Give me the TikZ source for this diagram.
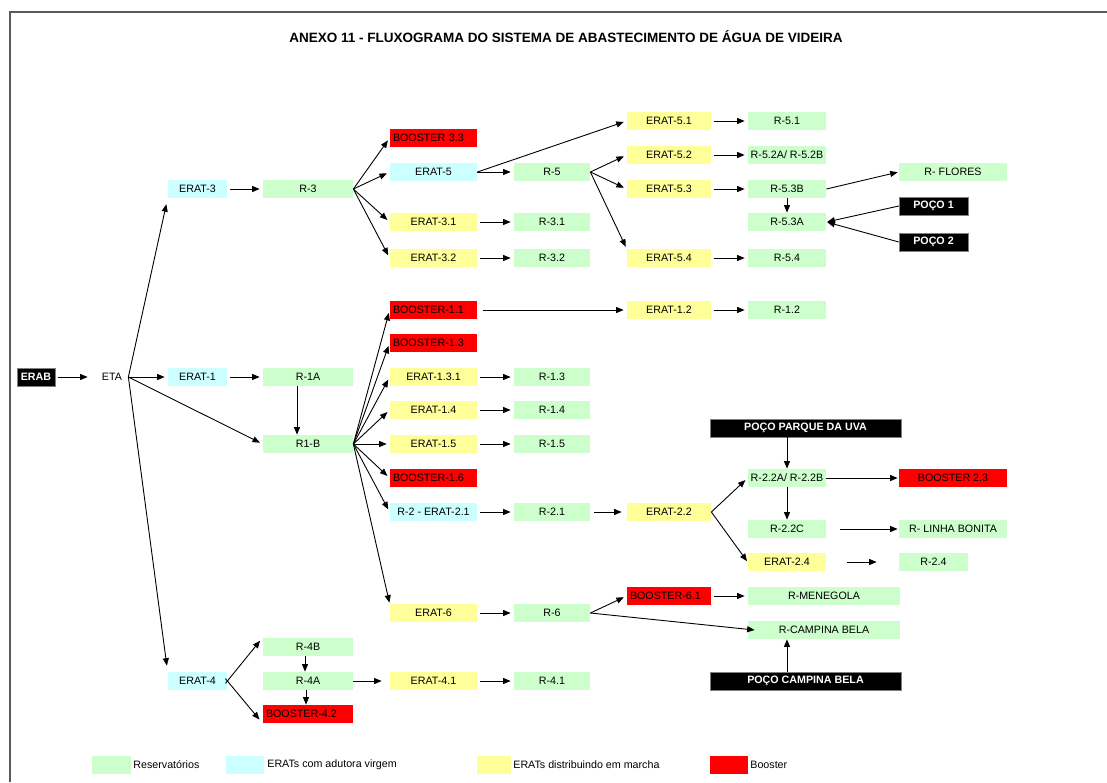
\documentclass[tikz,border=0pt]{standalone}
\usepackage{fontspec}
\setmainfont{Liberation Sans}
\usetikzlibrary{arrows.meta}

\definecolor{resgreen}{RGB}{204,255,204}
\definecolor{eracyan}{RGB}{204,255,255}
\definecolor{erayel}{RGB}{255,255,153}
\definecolor{boostred}{RGB}{255,0,0}

\tikzset{every picture/.style={line width=0.75pt}}
\tikzset{
  box/.style={inner sep=0pt, minimum height=18pt, font=\fontsize{10.7}{12}\selectfont},
  res/.style={box, fill=resgreen},
  eratv/.style={box, fill=eracyan},
  eratm/.style={box, fill=erayel},
  boost/.style={box, fill=boostred},
  boostl/.style={boost, text width=#1, align=left, inner xsep=3pt},
  poco/.style={box, fill=black, draw=gray, line width=0.4pt, text=white, font=\fontsize{10.7}{12}\selectfont\bfseries},
  wa/.style={minimum width=59pt},
  wb/.style={minimum width=90pt},
  wc/.style={minimum width=87pt},
  wd/.style={minimum width=76pt},
  we/.style={minimum width=84pt},
  wf/.style={minimum width=78pt},
  wg/.style={minimum width=108pt},
  wh/.style={minimum width=69pt},
  flow/.style={-{Triangle[length=7.5pt,width=6pt]}, line width=0.9pt, shorten <=3pt, shorten >=3pt},
}

\begin{document}
\begin{tikzpicture}[x=1pt,y=1pt,yscale=-1,xscale=1]
\useasboundingbox (0,0) rectangle (1107,782);

%Shape: Frame
\draw [color={rgb, 255:red, 90; green, 90; blue, 90 }, line width=2pt] (10,782) -- (10,12) -- (1107,12) ;

% Text Node
\node [font=\fontsize{13.5}{16}\selectfont\bfseries] (title) at (566,37) {ANEXO 11 - FLUXOGRAMA DO SISTEMA DE ABASTECIMENTO DE ÁGUA DE VIDEIRA};

% Text Node
\node [poco, minimum width=38pt] (erab) at (36,377) {ERAB};
\node [box, minimum width=32pt] (eta) at (112,377) {ETA};

% Text Node
\node [eratv, wa] (erat3) at (197.5,189) {ERAT-3};
\node [eratv, wa] (erat1) at (197.5,377) {ERAT-1};
\node [eratv, wa] (erat4) at (197.5,681) {ERAT-4};

% Text Node
\node [res, wb] (r3) at (308,189) {R-3};
\node [res, wb] (r1a) at (308,377) {R-1A};
\node [res, wb] (r1b) at (308,444) {R1-B};
\node [res, wb] (r4b) at (308,647) {R-4B};
\node [res, wb] (r4a) at (308,681) {R-4A};
\node [boostl=84pt] (b42) at (308,714) {BOOSTER-4.2};

% Text Node
\node [boostl=81pt] (b33) at (433.5,138) {BOOSTER 3.3};
\node [eratv, wc] (erat5) at (433.5,172) {ERAT-5};
\node [eratm, wc] (e31) at (433.5,222) {ERAT-3.1};
\node [eratm, wc] (e32) at (433.5,258) {ERAT-3.2};
\node [boostl=81pt] (b11) at (433.5,310) {BOOSTER-1.1};
\node [boostl=81pt] (b13) at (433.5,343) {BOOSTER-1.3};
\node [eratm, wc] (e131) at (433.5,377) {ERAT-1.3.1};
\node [eratm, wc] (e14) at (433.5,410) {ERAT-1.4};
\node [eratm, wc] (e15) at (433.5,444) {ERAT-1.5};
\node [boostl=81pt] (b16) at (433.5,478) {BOOSTER-1.6};
\node [eratv, wc] (r2e21) at (433.5,512) {R-2 - ERAT-2.1};
\node [eratm, wc] (e6) at (433.5,613) {ERAT-6};
\node [eratm, wc] (e41) at (433.5,681) {ERAT-4.1};

% Text Node
\node [res, wd] (r5) at (552,172) {R-5};
\node [res, wd] (r31) at (552,222) {R-3.1};
\node [res, wd] (r32) at (552,258) {R-3.2};
\node [res, wd] (r13) at (552,377) {R-1.3};
\node [res, wd] (r14) at (552,410) {R-1.4};
\node [res, wd] (r15) at (552,444) {R-1.5};
\node [res, wd] (r21) at (552,512) {R-2.1};
\node [res, wd] (r6) at (552,613) {R-6};
\node [res, wd] (r41) at (552,681) {R-4.1};

% Text Node
\node [eratm, we] (e51) at (669,121) {ERAT-5.1};
\node [eratm, we] (e52) at (669,155) {ERAT-5.2};
\node [eratm, we] (e53) at (669,189) {ERAT-5.3};
\node [eratm, we] (e54) at (669,258) {ERAT-5.4};
\node [eratm, we] (e12) at (669,310) {ERAT-1.2};
\node [eratm, we] (e22) at (669,512) {ERAT-2.2};
\node [boostl=78pt] (b61) at (669,596) {BOOSTER-6.1};

% Text Node
\node [res, wf] (r51) at (787,121) {R-5.1};
\node [res, wf] (r52) at (787,155) {R-5.2A/ R-5.2B};
\node [res, wf] (r53b) at (787,189) {R-5.3B};
\node [res, wf] (r53a) at (787,222) {R-5.3A};
\node [res, wf] (r54) at (787,258) {R-5.4};
\node [res, wf] (r12) at (787,310) {R-1.2};
\node [poco, minimum width=191pt] (ppu) at (805.5,428) {POÇO PARQUE DA UVA};
\node [res, wf] (r22ab) at (787,478) {R-2.2A/ R-2.2B};
\node [res, wf] (r22c) at (787,529) {R-2.2C};
\node [eratm, wf] (e24) at (787,562) {ERAT-2.4};
\node [res, minimum width=152pt] (rmen) at (824,596) {R-MENEGOLA};
\node [res, minimum width=152pt] (rcamp) at (824,630) {R-CAMPINA BELA};
\node [poco, minimum width=191pt] (pcb) at (805.5,681) {POÇO CAMPINA BELA};

% Text Node
\node [res, wg] (rflores) at (953,172) {R- FLORES};
\node [poco, wh] (poco1) at (933.5,206) {POÇO 1};
\node [poco, wh] (poco2) at (933.5,242) {POÇO 2};
\node [boost, wg] (b23) at (953,478) {BOOSTER 2.3};
\node [res, wg] (rlinha) at (953,529) {R- LINHA BONITA};
\node [res, wh] (r24) at (933.5,562) {R-2.4};

%Straight Lines
\draw [flow, shorten >=8pt] (erab) -- (eta);
\draw [flow, shorten <=0pt] (eta.east) -- (erat1);
\draw [flow, shorten <=0pt, shorten >=6pt] (eta.east) -- (erat3.south west);
\draw [flow, shorten <=0pt, shorten >=6pt] (eta.east) -- (erat4.north west);
\draw [flow, shorten <=0pt] (eta.east) -- (r1b.west);

%Straight Lines
\draw [flow] (erat3) -- (r3);
\draw [flow] (erat1) -- (r1a);
\draw [flow, shorten <=0pt, shorten >=0pt] ([xshift=-11pt]r1a.south) -- ([xshift=-11pt]r1b.north);

%Straight Lines
\draw [flow, shorten <=0pt] (r3.east) -- (b33.west);
\draw [flow, shorten <=0pt] (r3.east) -- (erat5.west);
\draw [flow, shorten <=0pt] (r3.east) -- (e31.west);
\draw [flow, shorten <=0pt] (r3.east) -- (e32.west);
\draw [flow] (e31) -- (r31);
\draw [flow] (e32) -- (r32);

%Straight Lines
\draw [flow, shorten <=0pt] (erat5.east) -- (e51.west);
\draw [flow, shorten <=0pt] (erat5.east) -- (r5.west);
\draw [flow, shorten <=0pt] (r5.east) -- (e52.west);
\draw [flow, shorten <=0pt] (r5.east) -- (e53.west);
\draw [flow, shorten <=0pt, shorten >=2pt] (r5.east) -- (e54.north west);
\draw [flow] (e51) -- (r51);
\draw [flow] (e52) -- (r52);
\draw [flow] (e53) -- (r53b);
\draw [flow] (e54) -- (r54);
\draw [flow, shorten <=0pt, shorten >=1pt] (r53b.east) -- (rflores.west);
\draw [flow, shorten <=0pt, shorten >=0pt] (r53b) -- (r53a);
\draw [flow, shorten <=0pt, shorten >=1pt] (poco1.west) -- (r53a.east);
\draw [flow, shorten <=0pt, shorten >=1pt] (poco2.west) -- (r53a.east);

%Straight Lines
\draw [flow, shorten <=0pt] (r1b.east) -- (b11.west);
\draw [flow, shorten <=0pt] (r1b.east) -- (b13.west);
\draw [flow, shorten <=0pt] (r1b.east) -- (e131.west);
\draw [flow, shorten <=0pt] (r1b.east) -- (e14.west);
\draw [flow, shorten <=0pt] (r1b.east) -- (e15.west);
\draw [flow, shorten <=0pt] (r1b.east) -- (b16.west);
\draw [flow, shorten <=0pt] (r1b.east) -- (r2e21.west);
\draw [flow, shorten <=0pt, shorten >=1pt] (r1b.east) -- (e6.north west);
\draw [flow, shorten <=6pt] (b11) -- (e12);
\draw [flow] (e12) -- (r12);
\draw [flow] (e131) -- (r13);
\draw [flow] (e14) -- (r14);
\draw [flow] (e15) -- (r15);
\draw [flow] (r2e21) -- (r21);
\draw [flow, shorten <=4pt, shorten >=5pt] (r21) -- (e22);

%Straight Lines
\draw [flow, shorten <=0pt] (e22.east) -- (r22ab.west);
\draw [flow, shorten <=0pt, shorten >=1pt] (e22.east) -- (e24.west);
\draw [flow, shorten <=0pt, shorten >=0pt] (ppu.south -| r22ab) -- (r22ab.north);
\draw [flow, shorten <=0pt, shorten >=1pt] (r22ab) -- (b23);
\draw [flow, shorten <=0pt, shorten >=0pt] (r22ab) -- (r22c);
\draw [flow, shorten <=14pt, shorten >=1pt] (r22c) -- (rlinha);
\draw [flow, shorten <=21pt, shorten >=22pt] (e24) -- (r24);

%Straight Lines
\draw [flow] (e6) -- (r6);
\draw [flow, shorten <=0pt] (r6.east) -- (b61.west);
\draw [flow, shorten <=0pt, shorten >=0pt] (r6.east) -- ([xshift=7pt]rcamp.west);
\draw [flow] (b61) -- (rmen);
\draw [flow, shorten <=0pt, shorten >=0pt] (pcb.north -| r22c) -- (rcamp.south -| r22c);

%Straight Lines
\draw [flow, shorten <=-3pt, shorten >=4pt] (erat4.east) -- (r4b.north west);
\draw [flow, shorten <=-3pt, shorten >=5pt] (erat4.east) -- (b42.south west);
\draw [flow, shorten <=0pt, shorten >=0pt] ([xshift=-3pt]r4b.south) -- ([xshift=-3pt]r4a.north);
\draw [flow, shorten <=0pt, shorten >=0pt] ([xshift=-2pt]r4a.south) -- ([xshift=-2pt]b42.north);
\draw [flow, shorten <=0pt, shorten >=8pt] (r4a) -- (e41);
\draw [flow] (e41) -- (r41);

% Legend
\node [res, minimum width=39pt] (lgres) at (111.5,765) {};
\node [box, anchor=west] (lgrestxt) at (133,765) {Reservatórios};
\node [eratv, minimum width=38pt] (lgerv) at (245,765) {};
\node [box, anchor=west] (lgervtxt) at (267,765) {ERATs com adutora virgem};
\node [eratm, minimum width=34pt] (lgerm) at (494,765) {};
\node [box, anchor=west] (lgermtxt) at (513,765) {ERATs distribuindo em marcha};
\node [boost, minimum width=38pt] (lgbst) at (729,765) {};
\node [box, anchor=west] (lgbsttxt) at (750,765) {Booster};

\end{tikzpicture}
\end{document}
